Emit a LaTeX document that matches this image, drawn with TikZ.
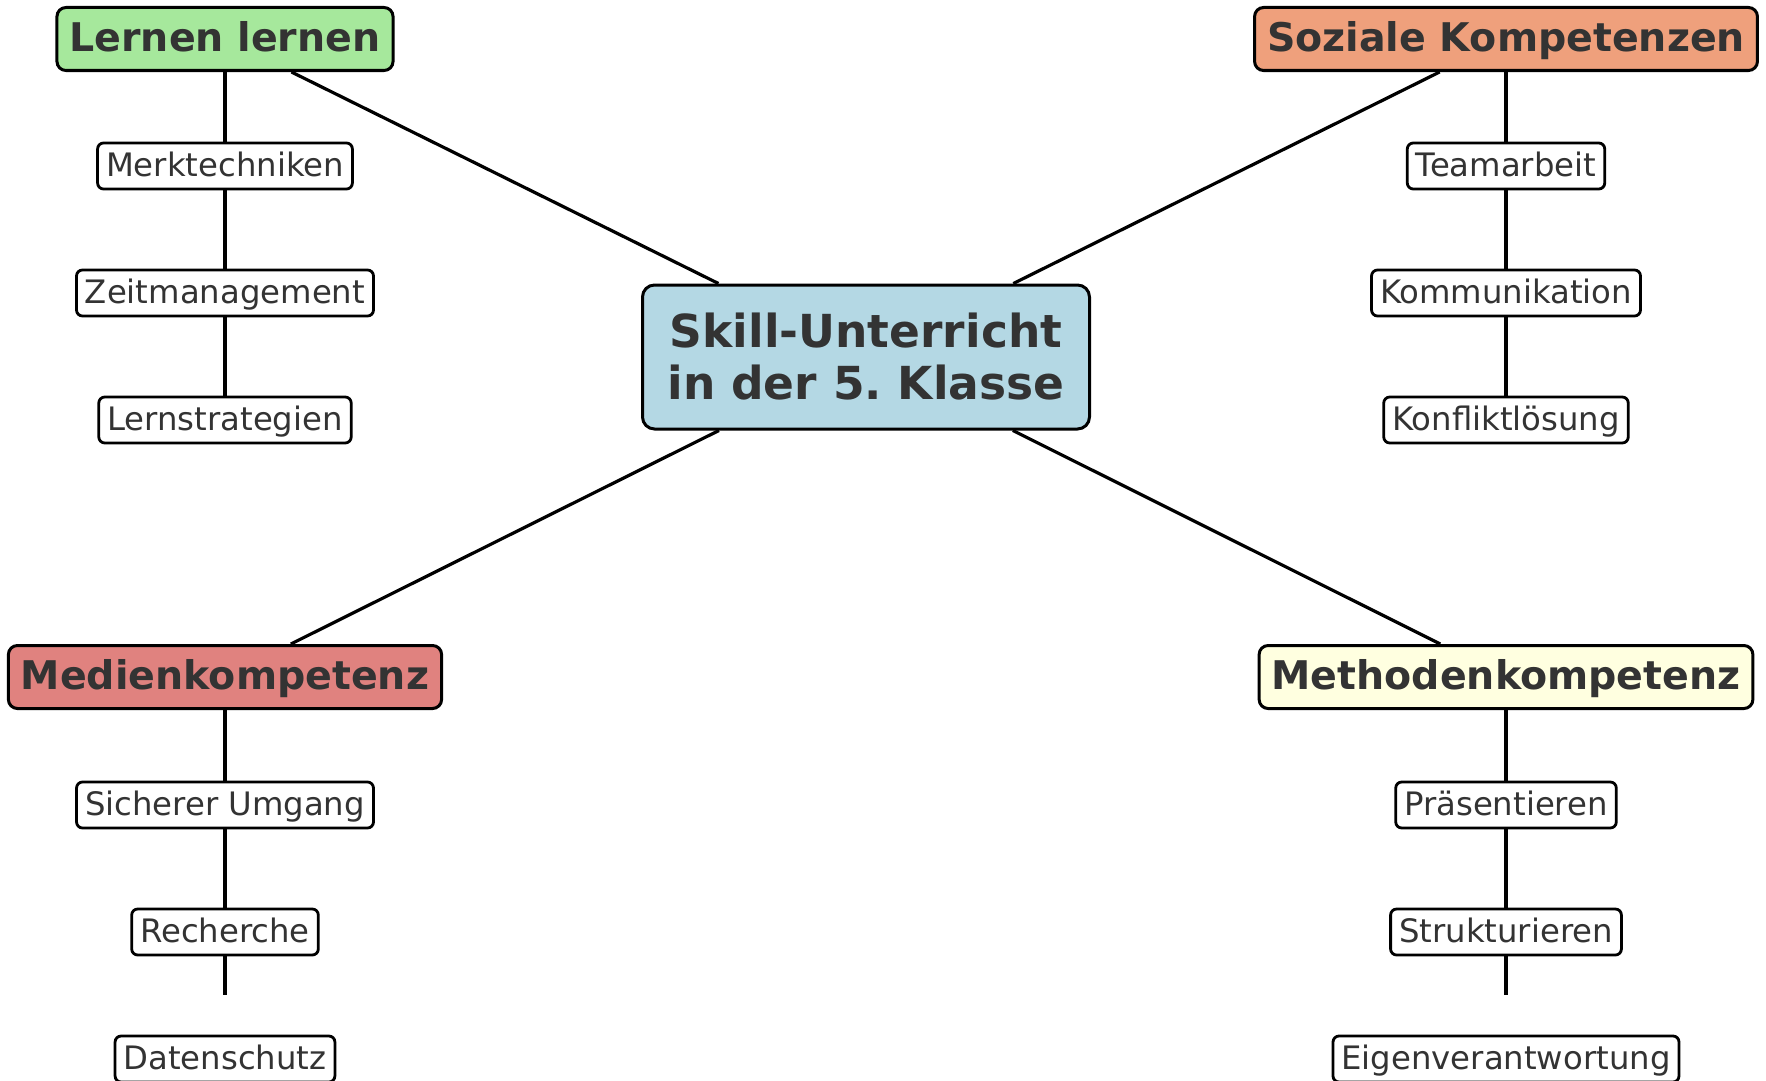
\documentclass[tikz,border=0pt]{standalone}
\usepackage{fontspec}
\setmainfont{DejaVu Sans}
\definecolor{txt}{HTML}{333333}
\definecolor{hubfill}{HTML}{B4D8E4}
\definecolor{lernfill}{HTML}{A6E89C}
\definecolor{sozfill}{HTML}{EFA07C}
\definecolor{medfill}{HTML}{E0827F}
\definecolor{methfill}{HTML}{FFFFE0}
\begin{document}
\frenchspacing
\begin{tikzpicture}[x=1pt,y=-1pt,
  hub/.style={draw, line width=3pt, rounded corners=12pt, fill=hubfill, text=txt,
    font=\fontsize{45.5}{52}\selectfont\bfseries, align=center,
    minimum width=447pt, minimum height=144pt, inner sep=0pt},
  cat/.style={draw, line width=3pt, rounded corners=9pt, text=txt,
    font=\fontsize{39.5}{46}\selectfont\bfseries,
    text height=31pt, text depth=6pt,
    minimum height=63pt, inner xsep=12.5pt, inner ysep=0pt},
  leaf/.style={draw, line width=2.8pt, rounded corners=6pt, fill=white, text=txt,
    font=\fontsize{32.3}{38}\selectfont,
    text height=25pt, text depth=5pt,
    minimum height=46pt, inner xsep=8.5pt, inner ysep=0pt},
  conn/.style={line width=3.2pt, black}]
\useasboundingbox (0,0) rectangle (1766,1081);
\fill[white] (0,0) rectangle (1766,1081);

\node[hub] (hub) at (866,357) {Skill-Unterricht\\in der 5. Klasse};

\node[cat, fill=lernfill] (lern) at (225,39) {Lernen lernen};
\node[leaf] (l1) at (225,166) {Merktechniken};
\node[leaf] (l2) at (225,293) {Zeitmanagement};
\node[leaf] (l3) at (225,420) {Lernstrategien};

\node[cat, fill=sozfill] (soz) at (1506,39) {Soziale Kompetenzen};
\node[leaf] (s1) at (1506,166) {Teamarbeit};
\node[leaf] (s2) at (1506,293) {Kommunikation};
\node[leaf] (s3) at (1506,420) {Konfliktlösung};

\node[cat, fill=medfill] (med) at (225,677) {Medienkompetenz};
\node[leaf] (m1) at (225,805) {Sicherer Umgang};
\node[leaf] (m2) at (225,932) {Recherche};
\node[leaf] (m3) at (225,1059) {Datenschutz};
\coordinate (mend) at (225,995);

\node[cat, fill=methfill] (meth) at (1506,677) {Methodenkompetenz};
\node[leaf] (t1) at (1506,805) {Präsentieren};
\node[leaf] (t2) at (1506,932) {Strukturieren};
\node[leaf] (t3) at (1506,1059) {Eigenverantwortung};
\coordinate (tend) at (1506,995);

\draw[conn] (hub) -- (lern);
\draw[conn] (hub) -- (soz);
\draw[conn] (hub) -- (med);
\draw[conn] (hub) -- (meth);

\draw[conn] (lern) -- (l1);
\draw[conn] (l1) -- (l2);
\draw[conn] (l2) -- (l3);

\draw[conn] (soz) -- (s1);
\draw[conn] (s1) -- (s2);
\draw[conn] (s2) -- (s3);

\draw[conn] (med) -- (m1);
\draw[conn] (m1) -- (m2);
\draw[conn] (m2) -- (mend);

\draw[conn] (meth) -- (t1);
\draw[conn] (t1) -- (t2);
\draw[conn] (t2) -- (tend);
\end{tikzpicture}
\end{document}
